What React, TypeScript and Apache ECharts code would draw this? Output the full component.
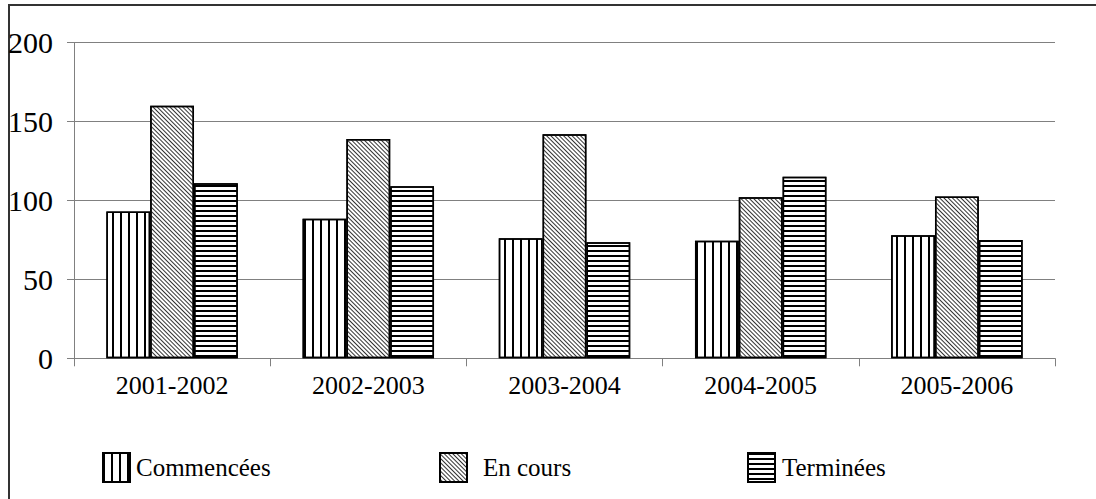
import React, { useEffect, useRef } from "react";
import * as echarts from "echarts";

const categories = ["2001-2002", "2002-2003", "2003-2004", "2004-2005", "2005-2006"];
const seriesNames = ["Commencées", "En cours", "Terminées"];
const commencees = [93, 88.5, 76, 74.5, 78];
const enCours = [160, 139, 142, 102, 102.5];
const terminees = [111, 109, 73.5, 115, 75];
const yTicks = [0, 50, 100, 150, 200];

const FONT = '"Liberation Serif", "Times New Roman", serif';

const decals = [
  { symbol: "rect", symbolSize: 1, color: "#000", dashArrayX: [1.4, 6], dashArrayY: [1, 0], rotation: 0 },
  { symbol: "rect", symbolSize: 1, color: "#333", dashArrayX: [1, 0], dashArrayY: [1, 1.8], rotation: Math.PI / 4 },
  { symbol: "rect", symbolSize: 1, color: "#000", dashArrayX: [1, 0], dashArrayY: [2, 2.5], rotation: 0 },
];

export default function App() {
  const ref = useRef<HTMLDivElement>(null);
  useEffect(() => {
    if (!ref.current) return;
    const chart = echarts.init(ref.current, undefined, { renderer: "svg" });
    const datas = [commencees, enCours, terminees];
    const legendLefts = [102, 439, 747];
    const legendPads = [1, 11, 2];
    chart.setOption({
      animation: false,
      backgroundColor: "#fff",
      aria: { enabled: false, decal: { show: false } },
      graphic: [
        {
          type: "rect",
          shape: { x: 9, y: 5, width: 1200, height: 600 },
          style: { fill: "none", stroke: "#333", lineWidth: 2 },
          silent: true,
        },
      ],
      legend: seriesNames.map((n, i) => ({
        data: [n],
        left: legendLefts[i],
        top: 452,
        padding: 0,
        icon: "rect",
        itemWidth: 27,
        itemHeight: 29,
        selectedMode: false,
        textStyle: {
          fontFamily: FONT,
          fontSize: 25,
          color: "#000",
          padding: [0, 0, 0, legendPads[i]],
        },
      })),
      grid: { left: 74, right: 41, top: 42.7, bottom: 140.7, containLabel: false },
      xAxis: {
        type: "category",
        data: categories,
        axisLine: { show: true, lineStyle: { color: "#808080", width: 1 } },
        axisTick: { show: true, length: 8, lineStyle: { color: "#808080" } },
        axisLabel: { fontFamily: FONT, fontSize: 26, color: "#000", margin: 14 },
      },
      yAxis: {
        type: "value",
        min: yTicks[0],
        max: yTicks[yTicks.length - 1],
        interval: 50,
        axisLine: { show: true, lineStyle: { color: "#808080", width: 1 } },
        axisTick: { show: true, length: 7, lineStyle: { color: "#808080" } },
        splitLine: { show: true, lineStyle: { color: "#808080", width: 1 } },
        axisLabel: { fontFamily: FONT, fontSize: 30, color: "#000", margin: 21 },
      },
      series: seriesNames.map((n, i) => ({
        name: n,
        type: "bar",
        data: datas[i],
        barGap: "0%",
        barCategoryGap: "33%",
        itemStyle: {
          color: "#fff",
          borderColor: "#000",
          borderWidth: 1.5,
          decal: decals[i],
        },
      })),
    });
    return () => chart.dispose();
  }, []);
  return (
    <div
      ref={ref}
      style={{ position: "absolute", left: 0, top: 0, width: 1096, height: 499 }}
    />
  );
}
